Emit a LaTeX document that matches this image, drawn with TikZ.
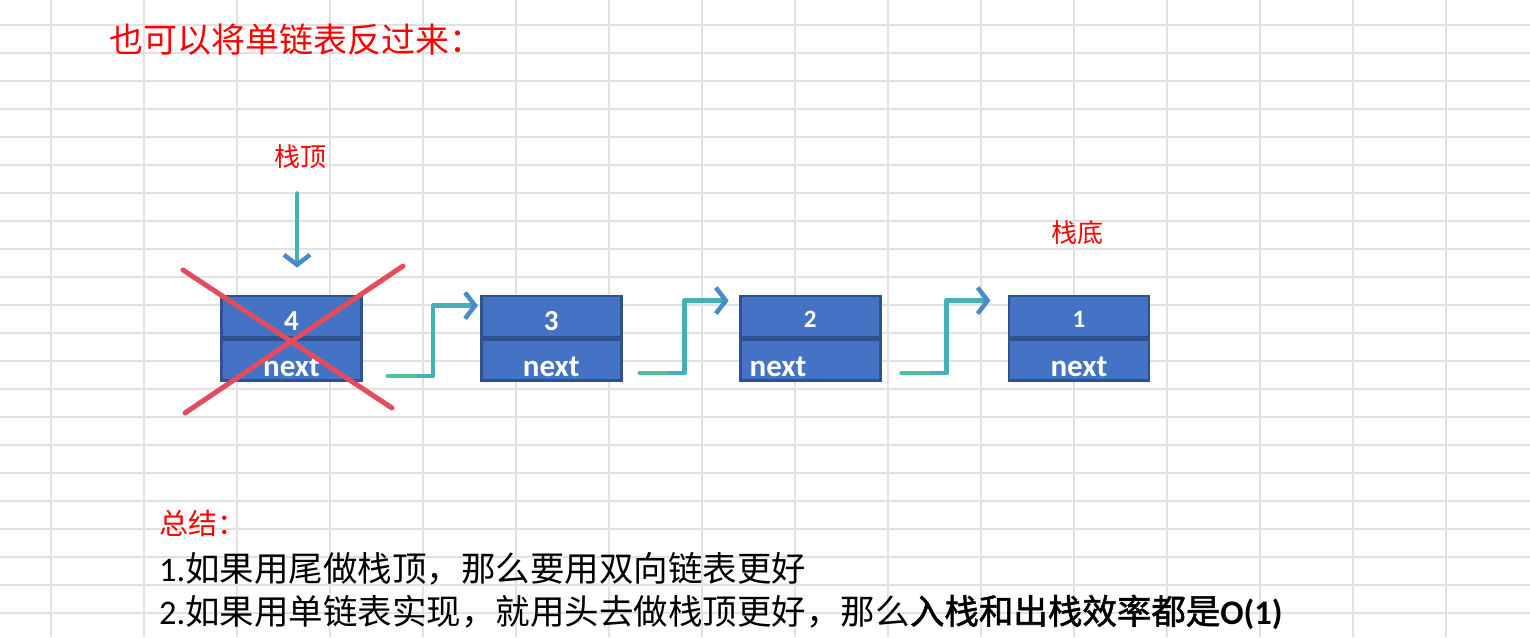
\documentclass[tikz,border=0pt]{standalone}
\usepackage{fontspec}
\setmainfont{Carlito}
\newfontfamily\cjk{Noto Sans CJK SC}[AutoFakeBold=1.6]
\usetikzlibrary{arrows.meta,positioning,calc}
\definecolor{cellblue}{RGB}{68,114,196}
\definecolor{celledge}{RGB}{47,82,143}
\definecolor{lgreen}{RGB}{76,197,146}
\definecolor{lteal}{RGB}{70,176,186}
\definecolor{lblue}{RGB}{74,138,200}
\definecolor{crossred}{RGB}{226,76,92}
\definecolor{gridgray}{RGB}{225,225,225}

\tikzset{
  cell/.style={draw=celledge, fill=cellblue, line width=2.8pt, minimum width=140pt, minimum height=41pt, inner sep=0pt, text=white, text height=27pt, text depth=0pt, font=\fontsize{29}{31}\selectfont\bfseries},
  small/.style={text height=22pt, font=\fontsize{25}{27}\selectfont\bfseries},
  nextcell/.style={cell, text height=33pt, font=\fontsize{31}{33}\selectfont\bfseries},
  link/.style={line width=4.5pt, line cap=round, line join=round},
  tipto/.style={-{Straight Barb[length=10pt,width=26pt,color=lblue]}},
  cross/.style={draw=crossred, line width=5pt, line cap=round},
  redtag/.style={text=red, font=\cjk\fontsize{26}{28}\selectfont},
  gridline/.style={draw=gridgray, line width=1.2pt}
}

\begin{document}
\begin{tikzpicture}[x=1pt, y=-1pt]
\useasboundingbox (0,0) rectangle (1530,637);
\fill[white] (0,0) rectangle (1530,637);
\foreach \x in {51,144,...,1446} \draw[gridline] (\x,0) -- (\x,637);
\foreach \y in {25,53,...,613} \draw[gridline] (0,\y) -- (1530,\y);

\node[anchor=west, text=red, inner sep=0pt] (title) at (109,40) {\cjk\fontsize{34}{36}\selectfont 也可以将单链表反过来：};

% the list, top of stack first
\node[cell] (v4) at (291.5,316.5) {4};
\node[nextcell, below=0pt of v4] (n4) {next};
\node[cell, right=117pt of v4] (v3) {3};
\node[nextcell, below=0pt of v3] (n3) {next};
\node[cell, small, right=116pt of v3] (v2) {2};
\node[nextcell, below=0pt of v2, text width=121pt, align=left] (n2) {next};
\node[cell, small, right=126pt of v2] (v1) {1};
\node[nextcell, below=0pt of v1] (n1) {next};

\node[redtag] (top) at (300,157) {栈顶};
\node[redtag] (bottom) at (1077,233) {栈底};

\draw[link, draw=lteal, tipto, shorten <=21pt, shorten >=27pt] ([xshift=-3pt]top.south) -- ([xshift=-3pt]top.south |- v4.north);

% next pointers
\draw[link, draw=lgreen] ([xshift=25pt,yshift=6pt]n4.south east) -- ++(30,0) coordinate (k43);
\draw[link, draw=lteal, tipto, shorten >=2pt] (k43) -- ++(15,0) |- ([yshift=-11pt]v3.north west);
\draw[link, draw=lgreen] ([xshift=17pt,yshift=9pt]n3.south east) -- ++(30,0) coordinate (k32);
\draw[link, draw=lteal, tipto, shorten >=10pt] (k32) -- ++(15,0) |- ([yshift=-6pt]v2.north west);
\draw[link, draw=lgreen] ([xshift=20pt,yshift=9pt]n2.south east) -- ++(30,0) coordinate (k21);
\draw[link, draw=lteal, tipto, shorten >=17pt] (k21) -- ++(15,0) |- ([yshift=-6pt]v1.north west);

\draw[cross] (183,270) -- (392,408);
\draw[cross] (185,413) -- (403,266);

\node[anchor=west, text=red, inner sep=0pt] (sum) at (159,523) {\cjk\fontsize{29}{31}\selectfont 总结：};
\node[anchor=west, inner sep=0pt] (line1) at (159,569) {\fontsize{34.5}{36}\selectfont 1.\cjk 如果用尾做栈顶，那么要用双向链表更好};
\node[anchor=west, inner sep=0pt] (line2) at (159,612) {\fontsize{34.5}{36}\selectfont 2.{\cjk 如果用单链表实现，就用头去做栈顶更好，那么\bfseries 入栈和出栈效率都是}\textbf{O(1)}};
\end{tikzpicture}
\end{document}
